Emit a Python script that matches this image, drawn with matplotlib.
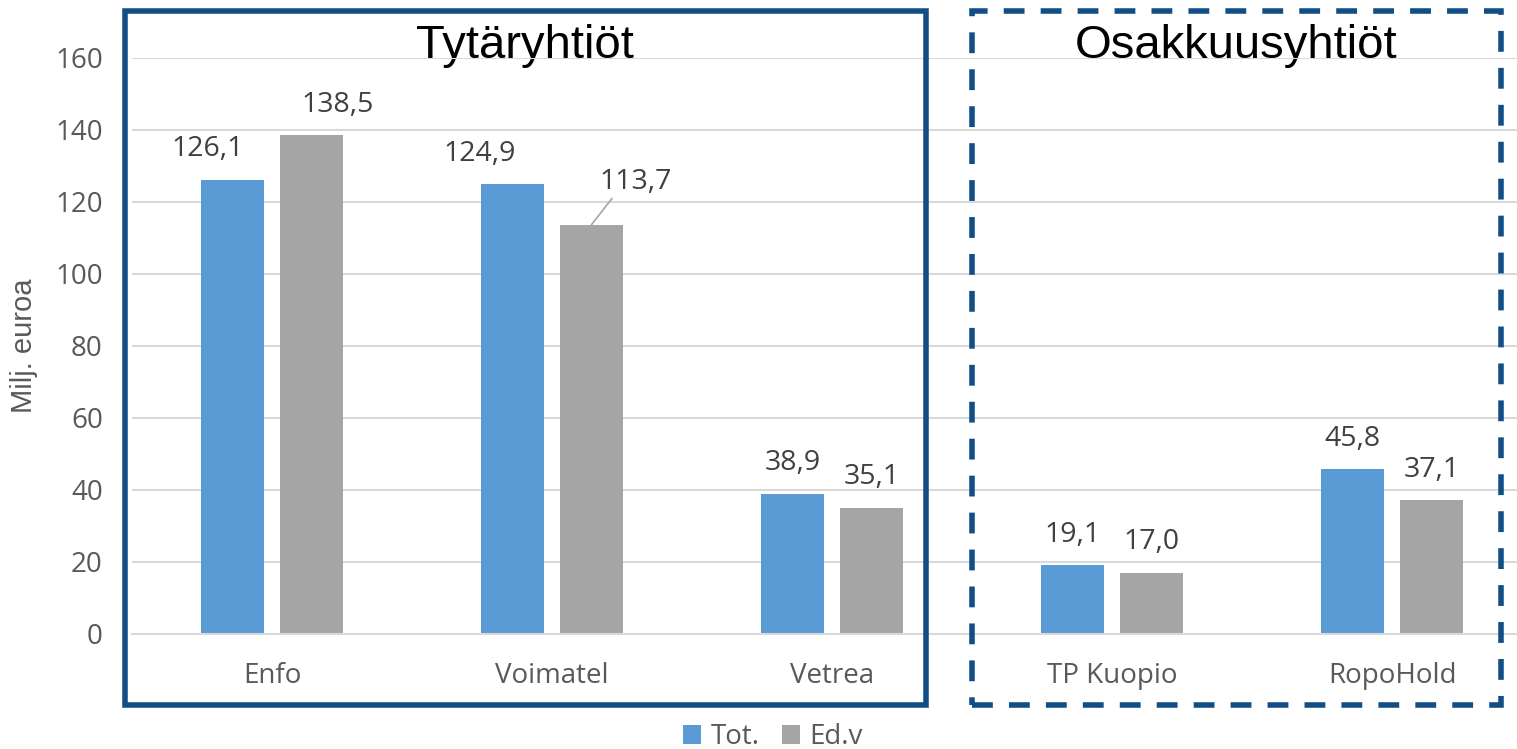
import numpy as np
from matplotlib import pyplot as plt, patches
from matplotlib.transforms import blended_transform_factory

companies = ["Enfo", "Voimatel", "Vetrea", "TP Kuopio", "RopoHold"]
tot = [126.1, 124.9, 38.9, 19.1, 45.8]
edv = [138.5, 113.7, 35.1, 17.0, 37.1]
series_names = ["Tot.", "Ed.v"]
group_names = ["Tytäryhtiöt", "Osakkuusyhtiöt"]
yticks = [0, 20, 40, 60, 80, 100, 120, 140, 160]

def fmt(v):
    return ("%.1f" % v).replace(".", ",")

W, H = 1517, 749
fig = plt.figure(figsize=(W / 100, H / 100), dpi=100)
plt.rcParams['font.family'] = ['Open Sans', 'DejaVu Sans']

ax = fig.add_axes([132 / W, (H - 634) / H, 1400 / W, 576 / H])
x = np.arange(len(companies))
bw = 0.222
ax.bar(x - 0.141, tot, bw, color="#5B9BD5", label=series_names[0])
ax.bar(x + 0.141, edv, bw, color="#A5A5A5", label=series_names[1])

ax.set_xlim(-0.5, len(companies) - 0.5)
ax.set_ylim(0, 160)
ax.set_yticks(yticks)
ax.set_xticks(x)
ax.set_xticklabels(companies)
ax.set_axisbelow(True)
ax.grid(axis='y', color="#D9D9D9", linewidth=1.5)
for s in ["top", "right", "left"]:
    ax.spines[s].set_visible(False)
ax.spines["bottom"].set_color("#D9D9D9")
ax.spines["bottom"].set_linewidth(1.5)
ax.tick_params(axis='y', length=0, pad=21, labelsize=20, labelcolor="#595959")
ax.tick_params(axis='x', length=0, pad=20, labelsize=20, labelcolor="#595959")
ax.set_ylabel("Milj. euroa", fontsize=21, color="#595959", family=['Liberation Sans', 'DejaVu Sans'])
ax.yaxis.set_label_coords(-0.067, 0.5)

# data labels (a few moved by hand in the original)
dx_tot = [-18, -24, 0, 0, 0]
dx_edv = [19, 0, 0, 0, 0]
for i in range(len(companies)):
    ax.annotate(fmt(tot[i]), (x[i] - 0.141, tot[i]), xytext=(dx_tot[i], 22),
                textcoords="offset points", ha='center', va='center',
                fontsize=20.5, color="#404040")
    if i == 1:
        ax.annotate(fmt(edv[i]), (x[i] + 0.141, edv[i]), xytext=(32, 31),
                    textcoords="offset points", ha='center', va='center',
                    fontsize=20.5, color="#404040",
                    arrowprops=dict(arrowstyle='-', color="#A5A5A5", lw=1.2,
                                    relpos=(0.2, 0), shrinkA=0, shrinkB=0))
    else:
        ax.annotate(fmt(edv[i]), (x[i] + 0.141, edv[i]), xytext=(dx_edv[i], 22),
                    textcoords="offset points", ha='center', va='center',
                    fontsize=20.5, color="#404040")

# group titles, sitting on the top gridline
tr = blended_transform_factory(fig.transFigure, ax.transData)
ax.text(524.5 / W, 160, group_names[0], transform=tr, ha='center', va='baseline',
        fontsize=34, family=['Liberation Sans', 'DejaVu Sans'], color="black",
        zorder=0.1, clip_on=False)
ax.text(1236 / W, 160, group_names[1], transform=tr, ha='center', va='baseline',
        fontsize=34, family=['Liberation Sans', 'DejaVu Sans'], color="black",
        zorder=0.1, clip_on=False)

# group boxes
box_col = "#124E85"
fig.add_artist(patches.Rectangle((125 / W, (H - 705) / H), 801 / W, 694 / H,
                                 transform=fig.transFigure, fill=False,
                                 edgecolor=box_col, linewidth=4, joinstyle='miter', zorder=5))
fig.add_artist(patches.Rectangle((972 / W, (H - 705) / H), 529 / W, 694 / H,
                                 transform=fig.transFigure, fill=False,
                                 edgecolor=box_col, linewidth=4, linestyle=(0, (3.75, 2.9)),
                                 zorder=5))

fig.legend(loc='center', bbox_to_anchor=(773 / W, 12 / H), ncol=2, frameon=False,
           fontsize=20, handlelength=0.65, handleheight=0.65, handletextpad=0.35,
           columnspacing=0.8, labelcolor="#595959")

fig.savefig("out.png", dpi=100)
